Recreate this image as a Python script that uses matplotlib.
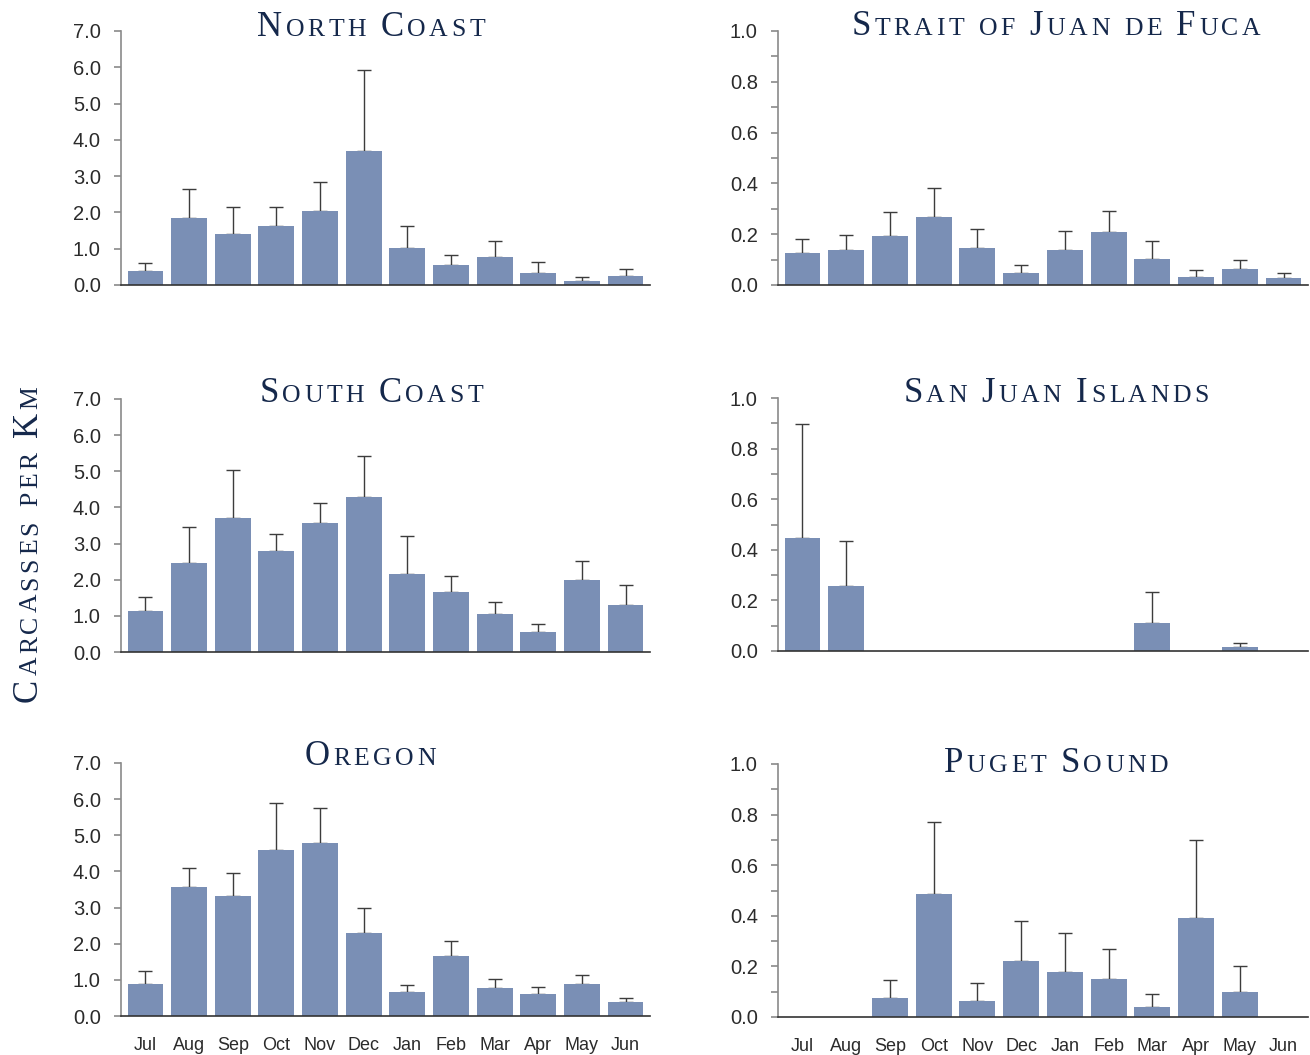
import numpy as np
import matplotlib
matplotlib.use("Agg")
import matplotlib.pyplot as plt
from matplotlib.font_manager import FontProperties
from matplotlib.ticker import MultipleLocator, FormatStrFormatter

months = ["Jul", "Aug", "Sep", "Oct", "Nov", "Dec", "Jan", "Feb", "Mar", "Apr", "May", "Jun"]

# mean carcasses per km and upper error (top of error bar)
north_coast = [0.39, 1.85, 1.40, 1.63, 2.04, 3.69, 1.02, 0.55, 0.77, 0.33, 0.11, 0.25]
north_coast_top = [0.62, 2.64, 2.14, 2.14, 2.84, 5.93, 1.62, 0.83, 1.20, 0.63, 0.23, 0.45]

south_coast = [1.13, 2.46, 3.71, 2.80, 3.57, 4.29, 2.16, 1.66, 1.05, 0.55, 1.99, 1.30]
south_coast_top = [1.53, 3.45, 5.04, 3.26, 4.12, 5.41, 3.20, 2.09, 1.37, 0.77, 2.52, 1.84]

oregon = [0.88, 3.58, 3.31, 4.60, 4.80, 2.29, 0.66, 1.65, 0.77, 0.61, 0.88, 0.39]
oregon_top = [1.24, 4.10, 3.96, 5.90, 5.76, 2.99, 0.87, 2.08, 1.01, 0.81, 1.13, 0.51]

juan_de_fuca = [0.126, 0.138, 0.193, 0.268, 0.146, 0.047, 0.138, 0.209, 0.102, 0.031, 0.063, 0.028]
juan_de_fuca_top = [0.182, 0.198, 0.289, 0.383, 0.222, 0.077, 0.211, 0.291, 0.172, 0.060, 0.097, 0.049]

san_juan = [0.445, 0.256, 0, 0, 0, 0, 0, 0, 0.110, 0, 0.016, 0]
san_juan_top = [0.898, 0.433, 0, 0, 0, 0, 0, 0, 0.234, 0, 0.033, 0]

puget_sound = [0, 0, 0.075, 0.485, 0.063, 0.221, 0.177, 0.150, 0.039, 0.390, 0.099, 0]
puget_sound_top = [0, 0, 0.148, 0.769, 0.133, 0.380, 0.332, 0.267, 0.089, 0.698, 0.200, 0]

W, H = 1310, 1055
BAR = "#7a8fb5"
NAVY = "#15284b"
TXT = "#2b2b2b"
SERIF = "Liberation Serif"

plt.rcParams["font.family"] = ["Liberation Sans", "DejaVu Sans"]

fig = plt.figure(figsize=(W / 100, H / 100), dpi=100)


def px_axes(left, top, right, bottom):
    return fig.add_axes([left / W, 1 - bottom / H, (right - left) / W, (bottom - top) / H])


# small caps drawn letter by letter, since matplotlib has no small-caps variant
def smallcaps(text, cx, cy, big=25, small=18.5, track=3.5, gap=11, vertical=False):
    renderer = fig.canvas.get_renderer()
    chars = []
    for ch in text:
        if ch == " ":
            chars.append((None, 0))
            continue
        size = big if ch.isupper() else small
        prop = FontProperties(family=SERIF, size=size)
        w, _, _ = renderer.get_text_width_height_descent(ch.upper(), prop, ismath=False)
        chars.append((ch.upper(), size, w))
    total = 0
    for i, c in enumerate(chars):
        if c[0] is None:
            total += gap
        else:
            total += c[2] + (track if i < len(chars) - 1 else 0)
    pos = -total / 2
    for c in chars:
        if c[0] is None:
            pos += gap
            continue
        ch, size, w = c
        if vertical:
            fx, fy = cx / W, 1 - (cy - pos) / H
            fig.text(fx, fy, ch, family=SERIF, size=size, color=NAVY, rotation=90,
                     rotation_mode="anchor", ha="left", va="baseline")
        else:
            fx, fy = (cx + pos) / W, 1 - cy / H
            fig.text(fx, fy, ch, family=SERIF, size=size, color=NAVY, ha="left", va="baseline")
        pos += w + track


def panel(box, vals, tops, ymax, right_col, show_months):
    ax = px_axes(*box)
    x = np.arange(len(months))
    vals = np.array(vals)
    err = np.array(tops) - vals
    ax.bar(x, vals, width=0.82, color=BAR, zorder=2)
    m = err > 0
    ax.errorbar(x[m], vals[m], yerr=[np.zeros(m.sum()), err[m]], fmt="none",
                ecolor="#3c3c3c", elinewidth=1, capsize=5, capthick=1, zorder=1)
    ax.set_xlim(-0.56, 11.56)
    ax.set_ylim(0, ymax)
    for s in ["top", "right"]:
        ax.spines[s].set_visible(False)
    ax.spines["left"].set_color("#8a8a8a")
    ax.spines["left"].set_linewidth(1.2)
    ax.spines["bottom"].set_color("#333333")
    ax.spines["bottom"].set_linewidth(1.2)
    if right_col:
        ax.yaxis.set_major_locator(MultipleLocator(0.2))
        ax.yaxis.set_minor_locator(MultipleLocator(0.1))
    else:
        ax.yaxis.set_major_locator(MultipleLocator(1.0))
    ax.yaxis.set_major_formatter(FormatStrFormatter("%.1f"))
    ax.tick_params(axis="y", which="both", length=5, width=1.2, color="#8a8a8a",
                   labelsize=14.5, labelcolor=TXT, pad=9.5)
    ax.set_xticks(x)
    if show_months:
        ax.set_xticklabels(months)
        ax.tick_params(axis="x", length=0, labelsize=13, labelcolor=TXT, pad=15)
    else:
        ax.tick_params(axis="x", length=0, labelbottom=False)
    return ax


panel((121, 31, 650, 285), north_coast, north_coast_top, 7.0, False, False)
panel((121, 399, 650, 652), south_coast, south_coast_top, 7.0, False, False)
panel((121, 763, 650, 1016), oregon, oregon_top, 7.0, False, True)
panel((778, 31, 1308, 285), juan_de_fuca, juan_de_fuca_top, 1.0, True, False)
panel((778, 398, 1308, 651), san_juan, san_juan_top, 1.0, True, False)
panel((778, 764, 1308, 1017), puget_sound, puget_sound_top, 1.0, True, True)

smallcaps("North Coast", 371, 36)
smallcaps("South Coast", 371, 402)
smallcaps("Oregon", 370, 765)
smallcaps("Strait of Juan de Fuca", 1056, 35)
smallcaps("San Juan Islands", 1056, 402)
smallcaps("Puget Sound", 1056, 772)
smallcaps("Carcasses per Km", 37, 544, vertical=True)

fig.savefig("out.png", dpi=100)
